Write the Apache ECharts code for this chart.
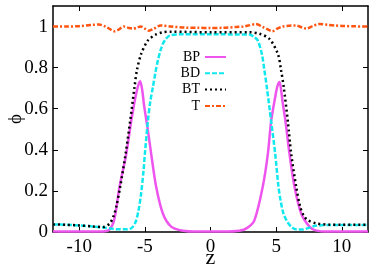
<!DOCTYPE html>
<html><head><meta charset="utf-8">
<script src="https://cdn.jsdelivr.net/npm/echarts@6/dist/echarts.min.js"></script>
<style>html,body{margin:0;padding:0;background:#fff}#c{width:382px;height:267px}</style>
</head><body><div id="c"></div>
<script>
const xTicks = [-10, -5, 0, 5, 10];
const yTicks = [0, 0.2, 0.4, 0.6, 0.8, 1];
const legendNames = ['BP', 'BD', 'BT', 'T'];

const zBP = [-12, -9, -8.2, -7.7, -7.34, -6.93, -6.42, -6.04, -5.71, -5.5, -5.36, -5.2, -5.08, -4.77, -4.52, -4.14, -3.63, -3.0, -2.1, -1, 0, 1, 2.2, 2.8, 3.35, 3.98, 4.37, 4.62, 4.93, 5.1, 5.26, 5.4, 5.51, 5.71, 6.02, 6.4, 6.91, 7.54, 8.0, 9, 12];
const phiBP = [0.002, 0.002, 0.003, 0.012, 0.058, 0.22, 0.38, 0.54, 0.66, 0.715, 0.734, 0.69, 0.625, 0.495, 0.38, 0.22, 0.09, 0.026, 0.006, 0.002, 0.002, 0.002, 0.006, 0.02, 0.058, 0.22, 0.38, 0.54, 0.657, 0.71, 0.73, 0.68, 0.625, 0.54, 0.38, 0.22, 0.09, 0.026, 0.008, 0.002, 0.002];

const zBD = [-12, -11, -10, -9, -8.2, -7.5, -7, -6.4, -6.0, -5.7, -5.5, -5.3, -5.1, -5.0, -4.77, -4.6, -4.39, -4.2, -4.01, -3.8, -3.63, -3.4, -3.12, -2.36, 0, 2.97, 3.3, 3.6, 3.91, 4.1, 4.29, 4.62, 4.93, 5.18, 5.35, 5.56, 5.85, 6.15, 6.5, 7.0, 7.5, 8, 9, 12];
const phiBD = [0.037, 0.035, 0.032, 0.027, 0.022, 0.016, 0.013, 0.013, 0.02, 0.05, 0.1, 0.18, 0.3, 0.38, 0.54, 0.63, 0.705, 0.775, 0.835, 0.885, 0.916, 0.94, 0.956, 0.962, 0.962, 0.961, 0.95, 0.932, 0.867, 0.79, 0.705, 0.54, 0.38, 0.22, 0.15, 0.09, 0.05, 0.026, 0.013, 0.012, 0.02, 0.03, 0.034, 0.034];

const zBT = [-12, -11, -10, -9, -8.2, -7.7, -7.4, -7.18, -6.88, -6.47, -6.12, -5.79, -5.61, -5.28, -4.77, -4.2, -3.63, -3, 0, 3, 3.73, 4.49, 5.13, 5.38, 5.58, 5.89, 6.15, 6.53, 6.83, 7.1, 7.41, 8.05, 9, 10, 12];
const phiBT = [0.037, 0.035, 0.032, 0.027, 0.024, 0.04, 0.075, 0.123, 0.22, 0.38, 0.54, 0.705, 0.786, 0.867, 0.932, 0.96, 0.972, 0.975, 0.972, 0.972, 0.965, 0.94, 0.867, 0.786, 0.705, 0.54, 0.38, 0.22, 0.123, 0.08, 0.058, 0.042, 0.036, 0.035, 0.035];

const zT = [-12, -11, -10, -9, -8.5, -8, -7.6, -7.3, -7, -6.6, -6.2, -5.9, -5.6, -5.3, -5.0, -4.7, -4.3, -3.8, -3, -2, -1, 0, 1, 2, 2.5, 3.0, 3.45, 4.0, 4.4, 4.7, 5.1, 5.5, 6.0, 6.5, 7.0, 7.3, 7.8, 8.3, 9, 9.5, 10, 11, 12];
const phiT = [1.0, 1.0, 1.002, 1.008, 1.01, 1.0, 0.985, 0.977, 0.985, 1.0, 0.993, 0.99, 0.995, 1.0, 0.99, 0.98, 0.99, 1.005, 1.0, 0.995, 0.994, 0.993, 0.994, 0.998, 1.0, 1.007, 1.012, 0.997, 0.985, 0.977, 0.99, 1.0, 1.004, 1.005, 0.995, 0.99, 1.003, 1.012, 1.008, 1.005, 1.003, 1.001, 1.0];

const zip = (a, b) => a.map((v, i) => [v, b[i]]);
const font = 'Liberation Serif';
const chart = echarts.init(document.getElementById('c'), null, {renderer: 'canvas'});
const mkLine = (name, z, p, color, type, w) => ({
  name, type: 'line', data: zip(z, p), symbol: 'none', smooth: 0.3,
  lineStyle: {color, width: w, type}, itemStyle: {color}
});
const axisLine = {onZero: false, lineStyle: {color: '#000', width: 1.5}};
const fmt = v => String(parseFloat(Number(v).toFixed(1)));
const option = {
  animation: false,
  grid: {left: 53, right: 14, top: 6, bottom: 35, outerBoundsMode: 'none', containLabel: false},
  xAxis: [{
    type: 'value', min: -12, max: 12, name: 'z', nameLocation: 'middle', nameGap: 15, nameMoveOverlap: false,
    nameTextStyle: {fontFamily: font, fontSize: 22, color: '#000'},
    axisLine, axisTick: {inside: true, length: 5, customValues: xTicks, lineStyle: {color: '#000'}},
    axisLabel: {customValues: xTicks, fontFamily: font, fontSize: 19, color: '#000', margin: 6},
    splitLine: {show: false}
  }, {
    type: 'value', position: 'top', min: -12, max: 12,
    axisLine, axisTick: {inside: true, length: 5, customValues: xTicks, lineStyle: {color: '#000'}},
    axisLabel: {show: false}, splitLine: {show: false}
  }],
  yAxis: [{
    type: 'value', min: 0, max: 1.1, name: 'ϕ', nameLocation: 'middle', nameGap: 27, nameRotate: 90, nameMoveOverlap: false,
    nameTextStyle: {fontFamily: font, fontSize: 19, color: '#000'},
    axisLine, axisTick: {inside: true, length: 5, customValues: yTicks, lineStyle: {color: '#000'}},
    axisLabel: {customValues: yTicks, formatter: fmt, fontFamily: font, fontSize: 19, color: '#000', margin: 5},
    splitLine: {show: false}
  }, {
    type: 'value', position: 'right', min: 0, max: 1.1,
    axisLine, axisTick: {inside: true, length: 5, customValues: yTicks, lineStyle: {color: '#000'}},
    axisLabel: {show: false}, splitLine: {show: false}
  }],
  legend: {
    data: legendNames, orient: 'vertical', align: 'right', right: 155, top: 50, padding: 0,
    itemWidth: 21, itemHeight: 10, itemGap: 2.3,
    itemStyle: {opacity: 0},
    textStyle: {fontFamily: font, fontSize: 14, color: '#000'}
  },
  series: [
    mkLine('BP', zBP, phiBP, '#ee55ee', 'solid', 2.5),
    mkLine('BD', zBD, phiBD, '#11e8ee', [5, 2], 2.5),
    mkLine('BT', zBT, phiBT, '#000000', [2, 3], 2.5),
    mkLine('T', zT, phiT, '#ff5511', [5, 2, 2, 2], 2.5)
  ]
};
chart.setOption(option);
</script></body></html>
